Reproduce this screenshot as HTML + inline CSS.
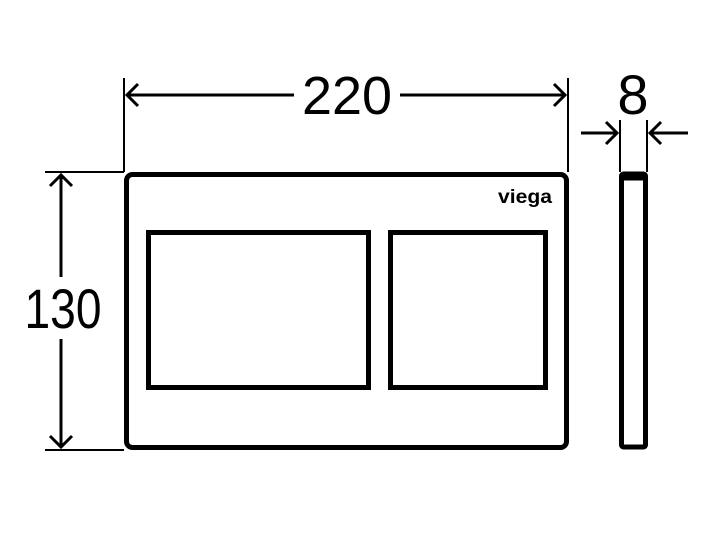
<!DOCTYPE html>
<html><head><style>html,body{margin:0;padding:0;background:#fff;}svg{display:block}</style></head>
<body>
<svg width="720" height="540" viewBox="0 0 720 540" xmlns="http://www.w3.org/2000/svg">
<g fill="none" stroke="#000">
<rect x="126.5" y="174.5" width="440" height="273" rx="6" stroke-width="5"/>
<rect x="148.5" y="232.5" width="220" height="155" stroke-width="5"/>
<rect x="390.5" y="232.5" width="155" height="155" stroke-width="5"/>
<rect x="621.5" y="174" width="24" height="273" rx="2" stroke-width="5"/>
<line x1="621" y1="177" x2="646" y2="177" stroke-width="7"/>
<g stroke-width="2">
<line x1="124" y1="78" x2="124" y2="172"/>
<line x1="568" y1="78" x2="568" y2="172"/>
<line x1="45" y1="172" x2="124" y2="172"/>
<line x1="45" y1="450" x2="124" y2="450"/>
<line x1="620" y1="120" x2="620" y2="172"/>
<line x1="647" y1="120" x2="647" y2="172"/>
</g>
<g stroke-width="3">
<line x1="127" y1="95" x2="294" y2="95"/>
<line x1="400" y1="95" x2="565" y2="95"/>
<polyline points="138,84 127,95 138,106"/>
<polyline points="554,84 565,95 554,106"/>
<line x1="61" y1="175" x2="61" y2="277"/>
<line x1="61" y1="339" x2="61" y2="447"/>
<polyline points="50,186 61,175 72,186"/>
<polyline points="50,436 61,447 72,436"/>
<line x1="581" y1="133" x2="617" y2="133"/>
<polyline points="606,122 617,133 606,144"/>
<line x1="650" y1="133" x2="688" y2="133"/>
<polyline points="661,122 650,133 661,144"/>
</g>
</g>
<g font-family="'Liberation Sans', sans-serif" fill="#000">
<text x="347" y="114" font-size="54" text-anchor="middle" textLength="90" lengthAdjust="spacingAndGlyphs">220</text>
<text x="63" y="328" font-size="56" text-anchor="middle" textLength="77" lengthAdjust="spacingAndGlyphs">130</text>
<text x="633" y="114" font-size="56" text-anchor="middle">8</text>
<text x="525" y="203" font-size="19" font-weight="bold" text-anchor="middle" textLength="54" lengthAdjust="spacingAndGlyphs">viega</text>
</g>
</svg>
</body></html>
